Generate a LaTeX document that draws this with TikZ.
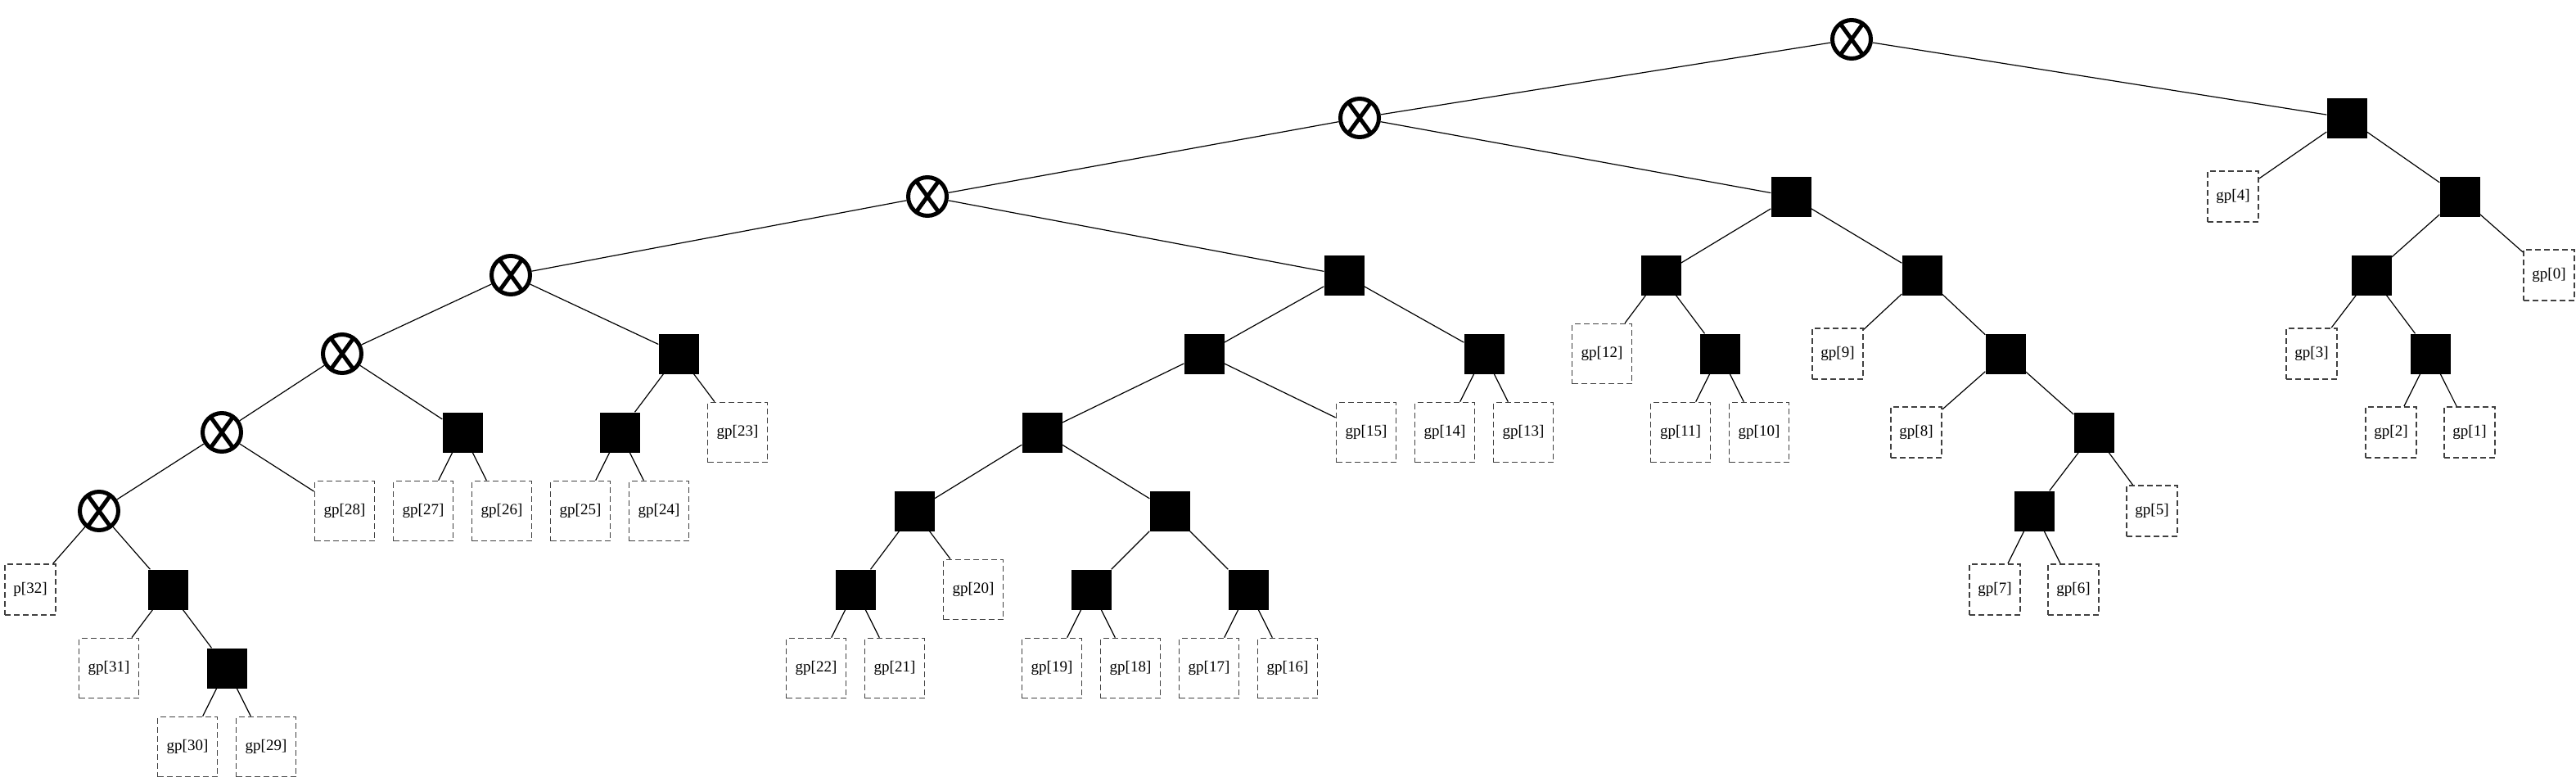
\documentclass[tikz,border=0pt]{standalone}
\usepackage{fontspec}
\setmainfont{Liberation Serif}
\definecolor{dashgray}{HTML}{404040}
\newcommand{\labfont}{\fontsize{19}{22}\selectfont}
\begin{document}
\begin{tikzpicture}[x=1pt,y=-96pt,
  conn/.style={line width=1.2pt},
  opnode/.style={circle,draw,line width=5pt,minimum size=47pt,inner sep=0pt,
    path picture={
      \draw[line width=5pt] ([shift={(54:40pt)}]path picture bounding box.center) -- ([shift={(234:40pt)}]path picture bounding box.center);
      \draw[line width=5pt] ([shift={(126:40pt)}]path picture bounding box.center) -- ([shift={(306:40pt)}]path picture bounding box.center);}},
  blk/.style={rectangle,fill=black,minimum size=49pt,inner sep=0pt},
  leafw/.style={rectangle,draw=dashgray,dash pattern=on 7pt off 4pt,line width=1.8pt,minimum size=73pt,inner sep=0pt,font=\labfont},
  leafn/.style={leafw,minimum size=62pt}]
\useasboundingbox (0,-0.5) rectangle (3147,9.4479);
% level 0
\node[opnode] (c0) at (2262,0) {};
% level 1
\node[opnode] (c1) at (1661,1) {};
\node[blk] (b1) at (2867,1) {};
% level 2
\node[opnode] (c2) at (1133,2) {};
\node[blk] (b2a) at (2188,2) {};
\node[leafn] (g4) at (2728,2) {gp[4]};
\node[blk] (b2b) at (3005,2) {};
% level 3
\node[opnode] (c3) at (624,3) {};
\node[blk] (b3a) at (1642,3) {};
\node[blk] (b3b) at (2029,3) {};
\node[blk] (b3c) at (2348,3) {};
\node[blk] (b3d) at (2897,3) {};
\node[leafn] (g0) at (3114,3) {gp[0]};
% level 4
\node[opnode] (c4) at (418,4) {};
\node[blk] (b4a) at (829,4) {};
\node[blk] (b4b) at (1471,4) {};
\node[blk] (b4c) at (1813,4) {};
\node[leafw] (g12) at (1957,4) {gp[12]};
\node[blk] (b4d) at (2101,4) {};
\node[leafn] (g9) at (2245,4) {gp[9]};
\node[blk] (b4e) at (2450,4) {};
\node[leafn] (g3) at (2824,4) {gp[3]};
\node[blk] (b4f) at (2969,4) {};
% level 5
\node[opnode] (c5) at (271,5) {};
\node[blk] (b5a) at (565,5) {};
\node[blk] (b5b) at (757,5) {};
\node[leafw] (g23) at (901,5) {gp[23]};
\node[blk] (b5c) at (1273,5) {};
\node[leafw] (g15) at (1669,5) {gp[15]};
\node[leafw] (g14) at (1765,5) {gp[14]};
\node[leafw] (g13) at (1861,5) {gp[13]};
\node[leafw] (g11) at (2053,5) {gp[11]};
\node[leafw] (g10) at (2149,5) {gp[10]};
\node[leafn] (g8) at (2341,5) {gp[8]};
\node[blk] (b5d) at (2558,5) {};
\node[leafn] (g2) at (2921,5) {gp[2]};
\node[leafn] (g1) at (3017,5) {gp[1]};
% level 6
\node[opnode] (c6) at (121,6) {};
\node[leafw] (g28) at (421,6) {gp[28]};
\node[leafw] (g27) at (517,6) {gp[27]};
\node[leafw] (g26) at (613,6) {gp[26]};
\node[leafw] (g25) at (709,6) {gp[25]};
\node[leafw] (g24) at (805,6) {gp[24]};
\node[blk] (b6a) at (1117,6) {};
\node[blk] (b6b) at (1429,6) {};
\node[blk] (b6c) at (2485,6) {};
\node[leafn] (g5) at (2629,6) {gp[5]};
% level 7
\node[leafn] (p32) at (37,7) {p[32]};
\node[blk] (b7a) at (205,7) {};
\node[blk] (b7b) at (1045,7) {};
\node[leafw] (g20) at (1189,7) {gp[20]};
\node[blk] (b7c) at (1333,7) {};
\node[blk] (b7d) at (1525,7) {};
\node[leafn] (g7) at (2437,7) {gp[7]};
\node[leafn] (g6) at (2533,7) {gp[6]};
% level 8
\node[leafw] (g31) at (133,8) {gp[31]};
\node[blk] (b8a) at (277,8) {};
\node[leafw] (g22) at (997,8) {gp[22]};
\node[leafw] (g21) at (1093,8) {gp[21]};
\node[leafw] (g19) at (1285,8) {gp[19]};
\node[leafw] (g18) at (1381,8) {gp[18]};
\node[leafw] (g17) at (1477,8) {gp[17]};
\node[leafw] (g16) at (1573,8) {gp[16]};
% level 9
\node[leafw] (g30) at (229,9) {gp[30]};
\node[leafw] (g29) at (325,9) {gp[29]};
% connectors
\foreach \a/\b in {c0/c1,c0/b1,c1/c2,c1/b2a,b1/g4,b1/b2b,
  c2/c3,c2/b3a,b2a/b3b,b2a/b3c,b2b/b3d,b2b/g0,
  c3/c4,c3/b4a,b3a/b4b,b3a/b4c,b3b/g12,b3b/b4d,b3c/g9,b3c/b4e,b3d/g3,b3d/b4f,
  c4/c5,c4/b5a,b4a/b5b,b4a/g23,b4b/b5c,b4b/g15,b4c/g14,b4c/g13,b4d/g11,b4d/g10,
  b4e/g8,b4e/b5d,b4f/g2,b4f/g1,
  c5/c6,c5/g28,b5a/g27,b5a/g26,b5b/g25,b5b/g24,b5c/b6a,b5c/b6b,b5d/b6c,b5d/g5,
  c6/p32,c6/b7a,b6a/b7b,b6a/g20,b6b/b7c,b6b/b7d,b6c/g7,b6c/g6,
  b7a/g31,b7a/b8a,b7b/g22,b7b/g21,b7c/g19,b7c/g18,b7d/g17,b7d/g16,
  b8a/g30,b8a/g29}
  \draw[conn] (\a) -- (\b);
\end{tikzpicture}
\end{document}
